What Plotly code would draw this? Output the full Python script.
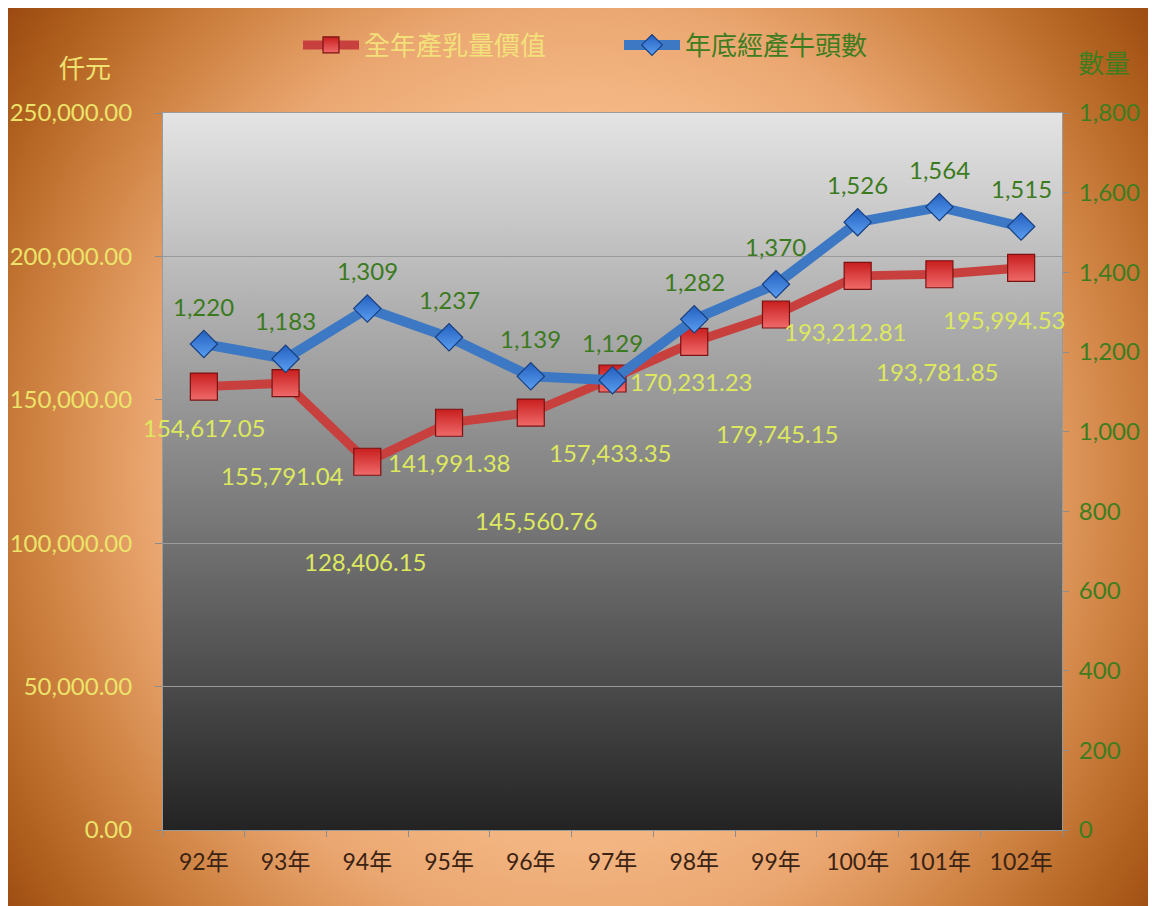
import base64
import plotly.graph_objects as go

# ---------------- data ----------------
years = ["92年", "93年", "94年", "95年", "96年", "97年", "98年", "99年", "100年", "101年", "102年"]
milk_value = [154617.05, 155791.04, 128406.15, 141991.38, 145560.76, 157433.35,
              170231.23, 179745.15, 193212.81, 193781.85, 195994.53]
cattle = [1220, 1183, 1309, 1237, 1139, 1129, 1282, 1370, 1526, 1564, 1515]
left_ticks = [0, 50000, 100000, 150000, 200000, 250000]
right_ticks = [0, 200, 400, 600, 800, 1000, 1200, 1400, 1600, 1800]
series_names = ["全年產乳量價值", "年底經產牛頭數"]
axis_titles = ["仟元", "數量"]

# label placement (style: pixel offsets of the value labels, as in the original)
milk_label_dx = [0, -3, -2, 0, 5, -3, -3, 1, -13, -2, -17]
milk_label_dy = [41, 92, 100, 40, 108, 74, 40, 119, 56, 97, 52]
cattle_label_dy = 38

W, H = 1156, 906
ML, MR, MT, MB = 155, 102, 105, 84
PW, PH = W - ML - MR, H - MT - MB

YELLOW = "#ece36a"
LABEL_YELLOW = "#dde85e"
GREEN = "#3c7a1e"
BROWN = "#3b2314"
NUM_FONT = "Lato, 'Noto Sans', sans-serif"
CJK_FONT = "'Noto Sans CJK TC', 'Noto Sans CJK SC', sans-serif"


def svg_uri(svg):
    return "data:image/svg+xml;base64," + base64.b64encode(svg.encode("utf-8")).decode("ascii")


bg_svg = """<svg xmlns="http://www.w3.org/2000/svg" width="1156" height="906" viewBox="0 0 1156 906" preserveAspectRatio="none">
<defs><radialGradient id="g" cx="575" cy="460" r="1" gradientUnits="userSpaceOnUse"
 gradientTransform="translate(575 460) scale(720 780) translate(-575 -460)">
<stop offset="0" stop-color="#fdcba2"/>
<stop offset="0.45" stop-color="#f5b986"/>
<stop offset="0.6" stop-color="#eaa670"/>
<stop offset="0.75" stop-color="#d08444"/>
<stop offset="0.9" stop-color="#b0601e"/>
<stop offset="1" stop-color="#9a4810"/>
</radialGradient></defs>
<rect x="0" y="0" width="1156" height="906" fill="url(#g)"/></svg>"""

plot_svg = """<svg xmlns="http://www.w3.org/2000/svg" width="900" height="720" viewBox="0 0 900 720" preserveAspectRatio="none">
<defs><linearGradient id="p" x1="0" y1="0" x2="0" y2="1">
<stop offset="0" stop-color="#e4e4e4"/>
<stop offset="0.5" stop-color="#858585"/>
<stop offset="1" stop-color="#232323"/>
</linearGradient></defs>
<rect x="0" y="0" width="900" height="720" fill="url(#p)"/></svg>"""


def px_x(px):
    return (px - ML) / PW


def px_y(py):
    return (H - MB - py) / PH


fig = go.Figure()
fig.add_trace(go.Scatter(
    x=years, y=milk_value, yaxis="y", mode="lines+markers",
    name=f"<span style='color:#f3e07a'>{series_names[0]}</span>",
    line=dict(color="#c8403e", width=9),
    marker=dict(symbol="square", size=27, color="#c81e1e",
                line=dict(color="#7a1212", width=1.2),
                gradient=dict(type="vertical", color="#f06a6a")),
    hoverinfo="skip",
))
fig.add_trace(go.Scatter(
    x=years, y=cattle, yaxis="y2", mode="lines+markers",
    name=f"<span style='color:#3e7d1f'>{series_names[1]}</span>",
    line=dict(color="#3d78c4", width=10),
    marker=dict(symbol="diamond", size=21, color="#2460c0",
                line=dict(color="#173f80", width=1.2),
                gradient=dict(type="vertical", color="#5a9ef0")),
    hoverinfo="skip",
))

annotations = []
for i, (yr, v) in enumerate(zip(years, milk_value)):
    annotations.append(dict(
        x=yr, y=v, xref="x", yref="y", text=f"{v:,.2f}", showarrow=False,
        xanchor="center", yanchor="middle",
        xshift=milk_label_dx[i], yshift=-milk_label_dy[i],
        font=dict(family=NUM_FONT, size=24, color=LABEL_YELLOW)))
for yr, v in zip(years, cattle):
    annotations.append(dict(
        x=yr, y=v, xref="x", yref="y2", text=f"{v:,}", showarrow=False,
        xanchor="center", yanchor="middle", yshift=cattle_label_dy,
        font=dict(family=NUM_FONT, size=24, color=GREEN)))

annotations.append(dict(x=px_x(77), y=px_y(58), xref="paper", yref="paper", text=axis_titles[0],
                        xanchor="center", yanchor="middle",
                        showarrow=False, font=dict(family=CJK_FONT, size=26, color="#efe070")))
annotations.append(dict(x=px_x(1096), y=px_y(53), xref="paper", yref="paper", text=axis_titles[1],
                        xanchor="center", yanchor="middle",
                        showarrow=False, font=dict(family=CJK_FONT, size=26, color="#3e7d1f")))

fig.update_layout(
    width=W, height=H,
    margin=dict(l=ML, r=MR, t=MT, b=MB, pad=0, autoexpand=False),
    paper_bgcolor="white",
    plot_bgcolor="rgba(0,0,0,0)",
    showlegend=True,
    legend=dict(orientation="h", xref="container", yref="container",
                x=0.5 + 33 / W, xanchor="center", y=1 - 37 / H, yanchor="middle",
                font=dict(family=CJK_FONT, size=26), bgcolor="rgba(0,0,0,0)",
                itemwidth=56, entrywidth=250, tracegroupgap=0),
    xaxis=dict(type="category", range=[-0.5, len(years) - 0.5], tickson="boundaries",
               ticks="outside", ticklen=6, tickcolor="#8c8c8c", showgrid=False,
               showline=True, linecolor="#9a9a9a", linewidth=1, mirror=True,
               tickfont=dict(family=NUM_FONT + ", " + CJK_FONT, size=23, color=BROWN),
               ticklabelstandoff=11, automargin=False, fixedrange=True),
    yaxis=dict(range=[0, 250000], tickvals=left_ticks, tickformat=",.2f",
               showgrid=True, gridcolor="#9a9a9a", gridwidth=1, zeroline=False,
               ticks="outside", ticklen=7, tickcolor="#8c8c8c",
               showline=True, linecolor="#9a9a9a", linewidth=1, mirror=True,
               tickfont=dict(family=NUM_FONT, size=24, color=YELLOW),
               ticklabelstandoff=18, automargin=False, fixedrange=True),
    yaxis2=dict(range=[0, 1800], tickvals=right_ticks, tickformat=",",
                overlaying="y", side="right", showgrid=False, zeroline=False,
                ticks="outside", ticklen=6, tickcolor="#8c8c8c",
                tickfont=dict(family=NUM_FONT, size=24, color="#3e7d1f"),
                ticklabelstandoff=5, automargin=False, fixedrange=True),
    annotations=annotations,
    images=[
        dict(source=svg_uri(bg_svg), xref="paper", yref="paper",
             x=px_x(0), y=px_y(0), sizex=W / PW, sizey=H / PH,
             xanchor="left", yanchor="top", sizing="stretch", layer="below"),
        dict(source=svg_uri(plot_svg), xref="paper", yref="paper",
             x=0, y=1, sizex=1, sizey=1,
             xanchor="left", yanchor="top", sizing="stretch", layer="below"),
    ],
)

fig.write_html("out.html")
